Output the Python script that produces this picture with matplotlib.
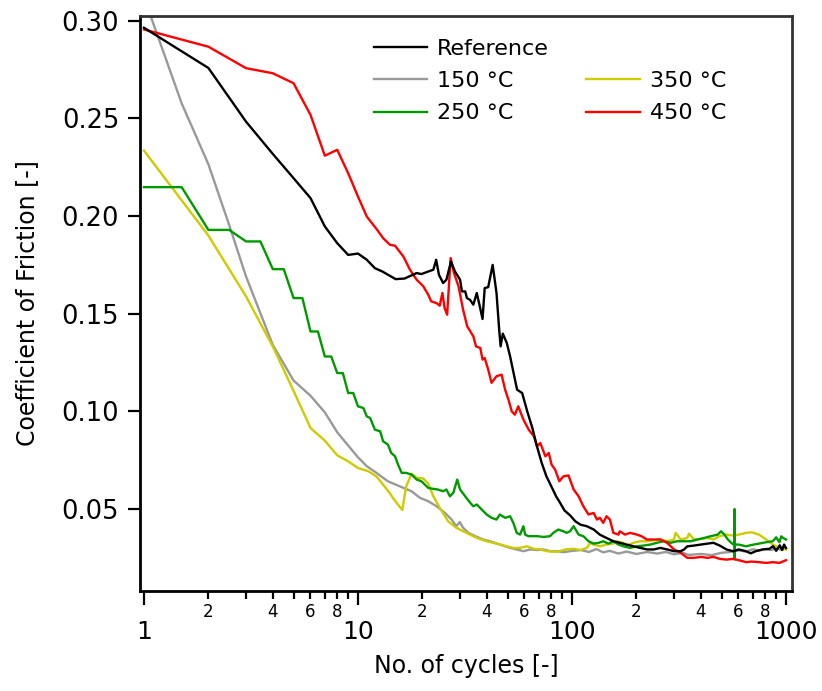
import math

import matplotlib
matplotlib.use('Agg')
import matplotlib.pyplot as plt
from matplotlib.lines import Line2D
from matplotlib.ticker import FixedLocator, FixedFormatter, FuncFormatter

# cycles / coefficient of friction
ref_n = [1, 2, 3, 4, 5, 6, 7, 8, 9, 10,
         11, 12, 13, 15, 16.5, 18.8, 19.8, 21.3, 22.5, 23.2,
         23.9, 25.0, 25.9, 27.2, 28.4, 30.0, 30.6, 31.7, 32.3, 33.4,
         34.6, 35.9, 37.1, 38.2, 39.1, 40.6, 42.6, 44.4, 45.7, 46.4,
         47.5, 49.6, 51.4, 55.4, 58.5, 61.8, 65.3, 68.6, 72.2, 76.0,
         80.1, 84.3, 88.1, 92.2, 97.9, 103.7, 109.5, 117.3, 126.4, 134.8,
         144.9, 156.1, 167.3, 180, 193.8, 208.4, 224.5, 241.2, 258.8, 278.4,
         300, 322, 334, 346, 372, 400, 430, 458, 490, 527,
         567, 602, 651, 684, 722, 780, 836, 870, 900, 935,
         960, 980, 1000]
ref_cof = [0.2964, 0.2758, 0.2483, 0.2318, 0.2194, 0.2092, 0.1947, 0.1861, 0.1801, 0.1808,
           0.1776, 0.1733, 0.1716, 0.1677, 0.1680, 0.1708, 0.1703, 0.1716, 0.1725, 0.1776,
           0.1699, 0.1657, 0.1674, 0.1767, 0.1716, 0.1674, 0.1614, 0.1614, 0.1580, 0.1571,
           0.1546, 0.1606, 0.1537, 0.1473, 0.1631, 0.1636, 0.1750, 0.1606, 0.1418, 0.1333,
           0.1398, 0.1350, 0.1281, 0.1111, 0.1094, 0.1000, 0.0915, 0.0821, 0.0736, 0.0667,
           0.0616, 0.0565, 0.0531, 0.0493, 0.0468, 0.0437, 0.0420, 0.0412, 0.0395, 0.0369,
           0.0352, 0.0335, 0.0327, 0.0318, 0.0309, 0.0301, 0.0293, 0.0293, 0.0301, 0.0293,
           0.0284, 0.0284, 0.0293, 0.0309, 0.0313, 0.0318, 0.0323, 0.0327, 0.0313, 0.0293,
           0.0284, 0.0293, 0.0284, 0.0273, 0.0284, 0.0293, 0.0296, 0.0310, 0.0286, 0.0314,
           0.0290, 0.0318, 0.0300]

t150_n = [1, 1.5, 2, 2.5, 3, 4, 5, 6, 7, 8,
          9, 10, 11, 12.2, 13.8, 15.7, 17.8, 19.5, 21.3, 23.3,
          25.5, 27.4, 28.8, 29.9, 31.0, 32.8, 35.3, 38.5, 41.4, 46.0,
          51.4, 55.2, 59.3, 63.8, 68.6, 73.7, 79.0, 84.9, 91.1, 97.9,
          110, 120, 130, 140, 150, 165, 180, 200, 225, 250,
          275, 300, 330, 350, 400, 450, 500, 550, 600, 650,
          700, 750, 800, 850, 900, 950, 1000]
t150_cof = [0.312, 0.2577, 0.2265, 0.1955, 0.1690, 0.1340, 0.1158, 0.1080, 0.0995, 0.0893,
            0.0825, 0.0765, 0.0719, 0.0685, 0.0642, 0.0616, 0.0591, 0.0557, 0.0540, 0.0514,
            0.0480, 0.0446, 0.0412, 0.0433, 0.0404, 0.0378, 0.0361, 0.0344, 0.0335, 0.0318,
            0.0301, 0.0293, 0.0284, 0.0293, 0.0290, 0.0293, 0.0284, 0.0284, 0.0279, 0.0284,
            0.0290, 0.0280, 0.0295, 0.0278, 0.0286, 0.0272, 0.0282, 0.0270, 0.0280, 0.0272,
            0.0280, 0.0268, 0.0276, 0.0265, 0.0270, 0.0264, 0.0276, 0.0280, 0.0288, 0.0282,
            0.0294, 0.0288, 0.0296, 0.0290, 0.0298, 0.0292, 0.0298]

t250_n = [1, 1.5, 2, 2.5, 3, 3.5, 4, 4.5, 5, 5.5,
          6, 6.5, 7, 7.5, 8, 8.5, 9, 9.5, 10, 10.6,
          11, 11.4, 12, 12.7, 13.1, 13.8, 14.3, 14.9, 15.4, 16.0,
          16.8, 17.8, 18.8, 19.8, 21.3, 22.5, 23.6, 25.0, 25.9, 26.9,
          27.9, 29.1, 30.0, 31.7, 33.5, 34.6, 35.9, 37.9, 39.9, 42.1,
          44.4, 46.0, 48.7, 51.4, 53.2, 55.2, 57.2, 59.3, 60.4, 62.6,
          68.6, 73.7, 79.0, 81.8, 86.3, 91.1, 94.5, 97.9, 101.8, 107.4,
          113.0, 119.5, 126.2, 133.3, 140.0, 147.8, 156.1, 164.9, 174, 187,
          201, 216, 232, 249, 268, 289, 310, 334, 359, 386,
          415, 446, 480, 497, 516, 535, 555, 570, 574, 575,
          576, 577, 602, 651, 691, 748, 808, 868, 900, 932,
          950, 970, 1000]
t250_cof = [0.2148, 0.2148, 0.1929, 0.1929, 0.1870, 0.1870, 0.1728, 0.1728, 0.1580, 0.1580,
            0.1409, 0.1409, 0.1281, 0.1281, 0.1196, 0.1196, 0.1094, 0.1094, 0.1026, 0.1017,
            0.0974, 0.0966, 0.0906, 0.0898, 0.0847, 0.0830, 0.0787, 0.0770, 0.0727, 0.0685,
            0.0685, 0.0676, 0.0651, 0.0642, 0.0608, 0.0603, 0.0600, 0.0591, 0.0600, 0.0565,
            0.0583, 0.0651, 0.0600, 0.0565, 0.0531, 0.0514, 0.0523, 0.0497, 0.0472, 0.0455,
            0.0446, 0.0472, 0.0455, 0.0463, 0.0429, 0.0378, 0.0369, 0.0412, 0.0369, 0.0361,
            0.0361, 0.0357, 0.0361, 0.0378, 0.0395, 0.0386, 0.0378, 0.0386, 0.0412, 0.0369,
            0.0361, 0.0335, 0.0323, 0.0327, 0.0335, 0.0323, 0.0335, 0.0318, 0.0309, 0.0301,
            0.0309, 0.0313, 0.0318, 0.0327, 0.0335, 0.0327, 0.0335, 0.0335, 0.0335, 0.0344,
            0.0352, 0.0361, 0.0369, 0.0386, 0.0369, 0.0344, 0.0327, 0.0318, 0.0318, 0.0500,
            0.0241, 0.0318, 0.0318, 0.0309, 0.0316, 0.0323, 0.0330, 0.0335, 0.0355, 0.0330,
            0.0360, 0.0352, 0.0344]

t350_n = [1, 2, 3, 4, 5, 6, 7, 8, 9, 10,
          11.2, 12.2, 13.1, 14.1, 14.6, 15.4, 16.1, 16.8, 17.8, 18.8,
          20.2, 21.3, 22.5, 24.1, 26.4, 28.8, 32.1, 35.9, 39.9, 44.4,
          49.6, 53.2, 57.2, 61.6, 66.3, 71.1, 76.3, 84.9, 94.5, 101.8,
          109.5, 117.3, 121.6, 126.2, 135.0, 145.0, 156.1, 161.4, 174.0, 180.4,
          193.8, 208.4, 224.5, 241.2, 258.8, 278.4, 300, 305, 322, 346,
          352, 372, 400, 430, 458, 490, 527, 567, 602, 651,
          691, 748, 808, 868, 932, 1000]
t350_cof = [0.2335, 0.1900, 0.1588, 0.1332, 0.1105, 0.0915, 0.0850, 0.0775, 0.0744, 0.0710,
            0.0693, 0.0667, 0.0625, 0.0580, 0.0555, 0.0522, 0.0495, 0.0616, 0.0681, 0.0660,
            0.0656, 0.0630, 0.0565, 0.0506, 0.0437, 0.0404, 0.0378, 0.0352, 0.0335, 0.0323,
            0.0309, 0.0301, 0.0301, 0.0309, 0.0296, 0.0293, 0.0284, 0.0281, 0.0294, 0.0296,
            0.0290, 0.0301, 0.0327, 0.0318, 0.0309, 0.0318, 0.0323, 0.0335, 0.0327, 0.0313,
            0.0327, 0.0335, 0.0335, 0.0340, 0.0344, 0.0335, 0.0344, 0.0378, 0.0344, 0.0352,
            0.0374, 0.0344, 0.0347, 0.0352, 0.0344, 0.0361, 0.0369, 0.0364, 0.0369, 0.0378,
            0.0381, 0.0369, 0.0344, 0.0318, 0.0301, 0.0293]

t450_n = [1, 2, 3, 4, 5, 6, 7, 8, 9, 10,
          11, 12.3, 13.1, 14.1, 14.9, 16.3, 17.5, 18.8, 20.2, 21.3,
          22.0, 23.3, 24.1, 24.8, 25.4, 26.1, 27.1, 28.1, 29.5, 31.0,
          32.4, 34.6, 35.6, 37.3, 38.2, 39.1, 40.6, 42.1, 44.4, 46.9,
          48.7, 50.5, 52.3, 54.1, 56.1, 59.3, 62.8, 66.4, 68.6, 71.1,
          75.1, 77.9, 80.3, 83.4, 87.3, 91.1, 96.3, 101.8, 107.4, 113.0,
          119.5, 126.2, 130.9, 135.0, 140.0, 145.0, 150.4, 156.1, 164.9, 167.3,
          176.9, 187.1, 201, 211, 224, 241, 259, 278, 300, 322,
          346, 372, 400, 430, 458, 490, 527, 567, 602, 651,
          691, 748, 808, 868, 932, 1000]
t450_cof = [0.2955, 0.2867, 0.2757, 0.2731, 0.2680, 0.2518, 0.2309, 0.2339, 0.2219, 0.2100,
            0.1997, 0.1929, 0.1887, 0.1853, 0.1848, 0.1793, 0.1725, 0.1674, 0.1640, 0.1597,
            0.1563, 0.1554, 0.1541, 0.1606, 0.1529, 0.1495, 0.1785, 0.1708, 0.1640, 0.1520,
            0.1435, 0.1384, 0.1333, 0.1324, 0.1265, 0.1273, 0.1214, 0.1146, 0.1180, 0.1188,
            0.1111, 0.1060, 0.1000, 0.0983, 0.1026, 0.0958, 0.0906, 0.0872, 0.0821, 0.0838,
            0.0770, 0.0787, 0.0727, 0.0702, 0.0642, 0.0667, 0.0672, 0.0600, 0.0565, 0.0514,
            0.0472, 0.0480, 0.0446, 0.0455, 0.0429, 0.0463, 0.0446, 0.0378, 0.0369, 0.0386,
            0.0369, 0.0378, 0.0369, 0.0361, 0.0344, 0.0344, 0.0344, 0.0327, 0.0293, 0.0276,
            0.0250, 0.0250, 0.0255, 0.0250, 0.0255, 0.0245, 0.0241, 0.0245, 0.0238, 0.0228,
            0.0231, 0.0228, 0.0224, 0.0228, 0.0224, 0.0238]

plt.rcParams['font.family'] = ['DejaVu Sans']

fig = plt.figure(figsize=(8.22, 6.91), dpi=100)
ax = fig.add_axes([0.1703, 0.1452, 0.7932, 0.8316])

lw = 1.7
# draw order: newest on top like the original
ax.plot(t150_n, t150_cof, color='#999999', lw=lw)
ax.plot(t350_n, t350_cof, color='#cccc00', lw=lw)
ax.plot(t250_n, t250_cof, color='#009900', lw=lw)
ax.plot(t450_n, t450_cof, color='#ff0000', lw=lw)
ax.plot(ref_n, ref_cof, color='black', lw=lw)

ax.set_xscale('log')
ax.set_xlim(0.958, 1067)
ax.set_ylim(0.0082, 0.3024)

ax.xaxis.set_major_locator(FixedLocator([1, 10, 100, 1000]))
ax.xaxis.set_major_formatter(FixedFormatter(['1', '10', '100', '1000']))
minors = [m * 10 ** d for d in range(3) for m in range(2, 10)]
ax.xaxis.set_minor_locator(FixedLocator(minors))


def minor_label(v, pos):
    lead = int(round(v / 10 ** math.floor(math.log10(v))))
    return str(lead) if lead in (2, 4, 6, 8) else ''


ax.xaxis.set_minor_formatter(FuncFormatter(minor_label))
ax.set_yticks([0.05, 0.10, 0.15, 0.20, 0.25, 0.30])
ax.set_yticklabels(['0.05', '0.10', '0.15', '0.20', '0.25', '0.30'])

ax.tick_params(axis='x', which='major', direction='out', length=10, width=1.6,
               labelsize=18, pad=11)
ax.tick_params(axis='x', which='minor', direction='out', length=6, width=1.6,
               labelsize=12, pad=3)
ax.tick_params(axis='y', which='major', direction='out', length=9, width=1.6,
               labelsize=18.5, pad=6)
ax.tick_params(axis='y', which='minor', left=False)

for side in ['left', 'bottom', 'top', 'right']:
    ax.spines[side].set_linewidth(2)
ax.spines['top'].set_color('#333333')
ax.spines['right'].set_color('#333333')

ax.set_xlabel('No. of cycles [-]', fontsize=17, labelpad=7)
ax.set_ylabel('Coefficient of Friction [-]', fontsize=17, labelpad=16)

handles = [
    Line2D([], [], color='black', lw=lw),
    Line2D([], [], color='#999999', lw=lw),
    Line2D([], [], color='#009900', lw=lw),
    Line2D([], [], color='none', lw=0),
    Line2D([], [], color='#cccc00', lw=lw),
    Line2D([], [], color='#ff0000', lw=lw),
]
labels = ['Reference', '150 °C', '250 °C', '', '350 °C', '450 °C']
ax.legend(handles, labels, ncol=2, loc='upper left', bbox_to_anchor=(0.328, 0.995),
          frameon=False, fontsize=16, handlelength=2.4, handletextpad=0.45,
          labelspacing=0.55, columnspacing=1.68)

fig.savefig('out.png', dpi=100)
